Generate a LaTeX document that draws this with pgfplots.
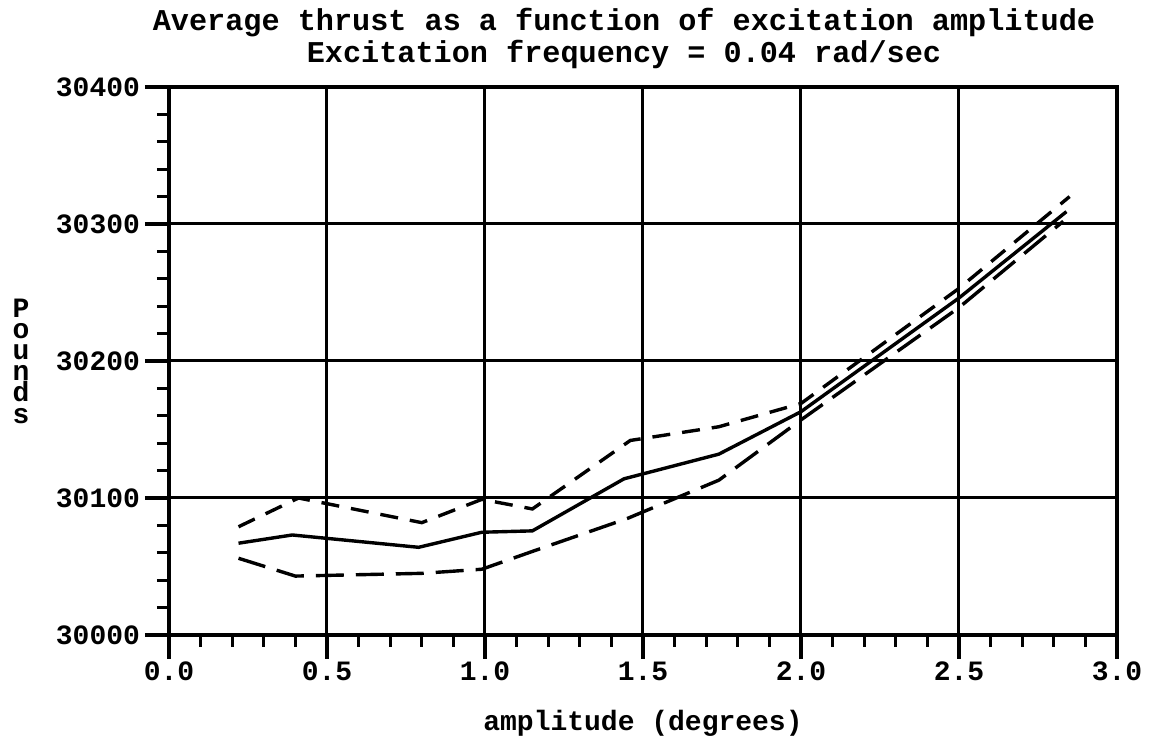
\documentclass[border=0pt]{standalone}
\usepackage{pgfplots}
\pgfplotsset{compat=1.18}
\usepackage{fontspec}
\setmainfont{Liberation Mono}
\begin{document}
\begin{tikzpicture}
\begin{axis}[
  name=ax,
  scale only axis,
  width=474pt, height=274pt,
  xmin=0, xmax=3, ymin=30000, ymax=30400,
  xtick={0,0.5,...,3.0},
  ytick={30000,30100,30200,30300,30400},
  scaled y ticks=false,
  minor x tick num=4,
  minor y tick num=4,
  tick pos=left,
  tick align=outside,
  major tick length=12pt,
  minor tick length=6pt,
  grid=major,
  major grid style={black, line width=1.5pt},
  axis line style={black, line width=2pt},
  every tick/.style={black, line width=1.6pt},
  xticklabel style={/pgf/number format/fixed, /pgf/number format/fixed zerofill, /pgf/number format/precision=1, yshift=2pt},
  yticklabel style={/pgf/number format/set thousands separator={}, /pgf/number format/fixed, xshift=1pt},
  /pgf/number format/assume math mode=true,
  ticklabel style={font=\bfseries\fontsize{14}{14}\selectfont},
  xlabel={amplitude (degrees)},
  xlabel style={font=\bfseries\fontsize{14}{14}\selectfont, at={(0.5,0)}, yshift=-44pt, anchor=center},
  ylabel={P\\o\\u\\n\\d\\s},
  ylabel style={font=\bfseries\fontsize{14}{10.6}\selectfont, align=center, rotate=-90, at={(0,0.5)}, xshift=-74pt, anchor=center},
  title={Average thrust as a function of excitation amplitude\\Excitation frequency = 0.04 rad/sec},
  title style={font=\bfseries\fontsize{15.1}{16}\selectfont, align=center, at={(0.48,1)}, anchor=south, yshift=-0.5pt},
]
\addplot[black, line width=1.7pt] coordinates {
(0.22,30067) (0.39,30073) (0.79,30064) (0.99,30075) (1.15,30076) (1.44,30114) (1.74,30132) (2.0,30163) (2.5,30246) (2.84,30309)
};
\addplot[black, line width=1.7pt, dash pattern=on 9pt off 6pt] coordinates {
(0.22,30079) (0.41,30100) (0.80,30082) (0.99,30099) (1.15,30092) (1.46,30142) (1.74,30152) (2.0,30169) (2.5,30253) (2.85,30320)
};
\addplot[black, line width=1.7pt, dash pattern=on 14pt off 6pt] coordinates {
(0.22,30056) (0.40,30043) (0.80,30045) (0.99,30048) (1.15,30061) (1.45,30085) (1.74,30113) (2.0,30157) (2.5,30239) (2.83,30302)
};
\end{axis}
\pgfresetboundingbox
\path[use as bounding box] ([xshift=-84.5pt,yshift=-51pt]ax.south west) rectangle ([xshift=492pt,yshift=317.5pt]ax.south west);
\end{tikzpicture}
\end{document}
